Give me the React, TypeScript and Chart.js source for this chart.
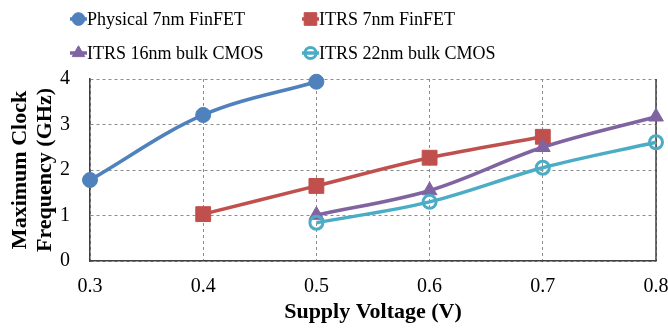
import React, { useEffect, useRef } from 'react';
import { Chart, registerables } from 'chart.js';
import { drawPoint } from 'chart.js/helpers';

Chart.register(...registerables);

const voltages = [0.3, 0.4, 0.5, 0.6, 0.7, 0.8];
const seriesNames = ['Physical 7nm FinFET', 'ITRS 7nm FinFET', 'ITRS 16nm bulk CMOS', 'ITRS 22nm bulk CMOS'];
const physical7nm = [1.78, 3.21, 3.94, null, null, null];
const itrs7nm = [null, 1.03, 1.65, 2.27, 2.73, null];
const itrs16nm = [null, null, 1.01, 1.55, 2.5, 3.17];
const itrs22nm = [null, null, 0.84, 1.3, 2.05, 2.61];
const yTickValues = [0, 1, 2, 3, 4];

const FONT = '"Liberation Serif", "Times New Roman", serif';

const toPoints = (vals: (number | null)[]) =>
  voltages.map((v, i) => ({ x: v, y: vals[i] })).filter((p) => p.y !== null);

const legendPlugin = {
  id: 'gridLegend',
  afterDraw(chart: any) {
    const ctx = chart.ctx;
    const cols = [70, 302];
    const rows = [19, 53];
    chart.data.datasets.forEach((ds: any, i: number) => {
      const x = cols[i % 2];
      const y = rows[Math.floor(i / 2)];
      ctx.save();
      ctx.strokeStyle = ds.borderColor;
      ctx.lineWidth = ds.borderWidth;
      ctx.beginPath();
      ctx.moveTo(x, y);
      ctx.lineTo(x + 17, y);
      ctx.stroke();
      ctx.fillStyle = ds.pointBackgroundColor;
      ctx.strokeStyle = ds.pointBorderColor;
      ctx.lineWidth = ds.pointBorderWidth;
      drawPoint(ctx, { pointStyle: ds.pointStyle, radius: ds.pointRadius * 0.85, rotation: 0, borderWidth: ds.pointBorderWidth }, x + 8.5, y);
      ctx.fillStyle = '#000';
      ctx.font = `18px ${FONT}`;
      ctx.textBaseline = 'middle';
      ctx.textAlign = 'left';
      ctx.fillText(ds.label, x + 17, y + 1);
      ctx.restore();
    });
  },
};

const frameRightPlugin = {
  id: 'frameRight',
  beforeDatasetsDraw(chart: any) {
    const { ctx, chartArea } = chart;
    ctx.save();
    ctx.strokeStyle = '#404040';
    ctx.lineWidth = 1.5;
    ctx.beginPath();
    ctx.moveTo(chartArea.right, chartArea.top);
    ctx.lineTo(chartArea.right, chartArea.bottom);
    ctx.stroke();
    ctx.restore();
  },
};

export default function App() {
  const ref = useRef<HTMLCanvasElement | null>(null);

  useEffect(() => {
    document.body.style.margin = '0';
    const colors = ['#4F81BD', '#C0504D', '#8064A2', '#4BACC6'];
    const values = [physical7nm, itrs7nm, itrs16nm, itrs22nm];
    const styles = ['circle', 'rect', 'triangle', 'circle'];
    const radii = [7.5, 10.5, 8.5, 6.5];
    const chart = new Chart(ref.current as HTMLCanvasElement, {
      type: 'line',
      data: {
        datasets: values.map((vals, i) => ({
          label: seriesNames[i],
          data: toPoints(vals),
          borderColor: colors[i],
          backgroundColor: colors[i],
          borderWidth: 3.5,
          pointStyle: styles[i],
          pointRadius: radii[i],
          pointHoverRadius: radii[i],
          pointBackgroundColor: i === 3 ? 'rgba(0,0,0,0)' : colors[i],
          pointBorderColor: colors[i],
          pointBorderWidth: i === 3 ? 3 : 1,
          tension: 0.35,
          fill: false,
          clip: false,
          order: 4 - i,
        })),
      },
      options: {
        animation: false,
        responsive: false,
        layout: { padding: { top: 79, left: 0, right: 0, bottom: 0 } },
        plugins: { legend: { display: false }, tooltip: { enabled: false } },
        scales: {
          x: {
            type: 'linear',
            min: 0.3,
            max: 0.8,
            ticks: {
              stepSize: 0.1,
              padding: 14,
              color: '#000',
              font: { family: FONT, size: 20 },
              callback: (v: any) => Number(v).toFixed(1),
            },
            grid: { color: '#8c8c8c', lineWidth: 1, drawTicks: false },
            border: { display: true, color: '#404040', width: 1.5, dash: [3, 3] },
            title: {
              display: true,
              text: 'Supply Voltage (V)',
              color: '#000',
              font: { family: FONT, size: 22, weight: 'bold' },
              padding: { top: 0, bottom: 2 },
            },
            afterFit: (s: any) => { s.height = 67; s.paddingRight = 12; s.paddingLeft = 0; },
          },
          y: {
            min: 0,
            max: 4,
            afterBuildTicks: (s: any) => { s.ticks = yTickValues.map((v) => ({ value: v })); },
            ticks: {
              stepSize: 1,
              padding: 20,
              color: '#000',
              font: { family: FONT, size: 20 },
            },
            grid: { color: '#8c8c8c', lineWidth: 1, drawTicks: false },
            border: { display: true, color: '#404040', width: 1.5, dash: [3, 3] },
            title: {
              display: true,
              text: ['Maximum Clock', 'Frequency (GHz)'],
              color: '#000',
              font: { family: FONT, size: 22, weight: 'bold', lineHeight: 25 / 22 },
              padding: { top: 7.5, bottom: 0 },
            },
            afterFit: (s: any) => { s.width = 90; },
          },
        },
      },
      plugins: [legendPlugin, frameRightPlugin],
    } as any);
    return () => chart.destroy();
  }, []);

  return (
    <div style={{ position: 'absolute', left: 0, top: 0, width: 668, height: 328 }}>
      <canvas ref={ref} width={668} height={328} />
    </div>
  );
}
